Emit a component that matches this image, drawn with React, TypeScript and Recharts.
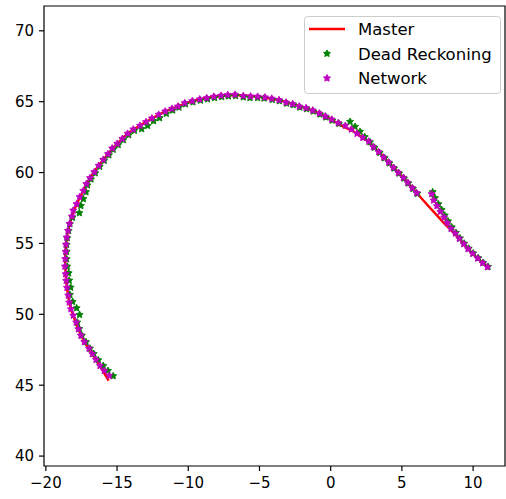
import {
	ScatterChart,
	Scatter,
	XAxis,
	YAxis,
	ReferenceArea,
} from "recharts";

const FONT = "'DejaVu Sans', sans-serif";

// master trajectory (red line)
const masterPoints: [number, number][] = [
	[-15.59, 45.33], [-16.2, 46.37], [-16.74, 47.2], [-17.3, 48.05], [-17.72, 48.96],
	[-18.08, 49.92], [-18.36, 50.84], [-18.52, 51.88], [-18.61, 52.84], [-18.65, 53.9],
	[-18.59, 54.93], [-18.45, 55.9], [-18.17, 56.91], [-17.84, 57.78], [-17.37, 58.72],
	[-16.9, 59.62], [-16.29, 60.49], [-15.64, 61.31], [-14.99, 62.04], [-14.26, 62.75],
	[-13.39, 63.31], [-12.55, 63.83], [-11.62, 64.32], [-10.72, 64.67], [-9.72, 65.05],
	[-8.71, 65.27], [-7.7, 65.42], [-6.72, 65.47], [-5.62, 65.4], [-4.61, 65.3],
	[-3.63, 65.12], [-2.67, 64.84], [-1.73, 64.55], [-0.8, 64.18], [0.07, 63.75],
	[0.65, 63.36], [1.59, 62.91], [2.53, 62.27], [3.46, 61.38], [4.07, 60.72],
	[4.75, 59.99], [5.41, 59.29], [6.04, 58.56], [6.97, 57.52], [7.91, 56.49],
	[8.45, 55.94], [9.03, 55.34], [9.64, 54.61], [10.32, 53.95], [11.0, 53.34],
];

const deadReckoningPoints: [number, number][] = [
	[-15.27, 45.65], [-15.64, 46.02], [-15.97, 46.37], [-16.32, 46.77], [-16.64, 47.22],
	[-16.9, 47.59], [-17.18, 48.05], [-17.47, 48.51], [-17.65, 48.98], [-17.79, 49.43],
	[-17.63, 49.97], [-17.84, 50.44], [-18.12, 50.89], [-18.31, 51.38], [-18.26, 51.9],
	[-18.36, 52.39], [-18.4, 52.91], [-18.5, 53.38], [-18.54, 53.9], [-18.54, 54.42],
	[-18.54, 54.91], [-18.5, 55.38], [-18.4, 55.9], [-18.31, 56.37], [-18.13, 56.82],
	[-17.65, 57.15], [-17.54, 57.66], [-17.37, 58.14], [-17.18, 58.63], [-17.08, 59.11],
	[-16.83, 59.53], [-16.53, 59.96], [-16.22, 60.42], [-15.9, 60.84], [-15.57, 61.23],
	[-15.27, 61.62], [-14.92, 61.95], [-14.56, 62.3], [-14.18, 62.65], [-13.78, 62.96],
	[-13.27, 63.08], [-12.85, 63.31], [-12.43, 63.64], [-12.01, 63.85], [-11.54, 64.16],
	[-11.09, 64.39], [-10.65, 64.6], [-10.2, 64.83], [-9.67, 64.97], [-9.14, 65.09],
	[-8.65, 65.18], [-8.15, 65.27], [-7.65, 65.34], [-7.18, 65.39], [-6.67, 65.41],
	[-6.14, 65.32], [-5.67, 65.27], [-5.13, 65.27], [-4.68, 65.24], [-4.1, 65.14],
	[-3.6, 65.05], [-3.09, 64.88], [-2.63, 64.77], [-2.16, 64.6], [-1.69, 64.49],
	[-1.22, 64.32], [-0.75, 64.11], [-0.33, 63.9], [0.11, 63.68], [0.58, 63.45],
	[1.36, 63.59], [1.71, 63.24], [2.06, 62.89], [2.39, 62.51], [2.76, 62.15],
	[3.08, 61.76], [3.44, 61.4], [3.79, 61.02], [4.13, 60.66], [4.45, 60.3],
	[4.8, 59.94], [5.15, 59.59], [5.45, 59.24], [5.78, 58.86], [6.08, 58.51],
	[7.16, 58.63], [7.32, 58.21], [7.56, 57.78], [7.79, 57.38], [8.01, 56.98],
	[8.24, 56.57], [8.5, 56.15], [8.8, 55.76], [9.08, 55.37], [9.38, 55.0],
	[9.69, 54.65], [10.01, 54.31], [10.37, 53.97], [10.72, 53.64], [11.05, 53.36],
];

const networkPoints: [number, number][] = [
	[-15.55, 45.67], [-15.9, 46.02], [-16.2, 46.37], [-16.48, 46.8], [-16.74, 47.2],
	[-16.97, 47.59], [-17.3, 48.05], [-17.54, 48.51], [-17.72, 48.96], [-17.87, 49.43],
	[-18.08, 49.92], [-18.24, 50.37], [-18.36, 50.84], [-18.43, 51.33], [-18.52, 51.88],
	[-18.57, 52.37], [-18.61, 52.84], [-18.66, 53.38], [-18.64, 53.9], [-18.61, 54.42],
	[-18.59, 54.93], [-18.54, 55.43], [-18.45, 55.9], [-18.33, 56.39], [-18.17, 56.91],
	[-18.08, 57.33], [-17.84, 57.78], [-17.63, 58.28], [-17.37, 58.72], [-17.16, 59.2],
	[-16.9, 59.62], [-16.6, 60.04], [-16.29, 60.49], [-15.97, 60.91], [-15.64, 61.31],
	[-15.34, 61.71], [-14.99, 62.04], [-14.63, 62.39], [-14.26, 62.75], [-13.86, 63.05],
	[-13.39, 63.31], [-12.97, 63.57], [-12.55, 63.83], [-12.08, 64.09], [-11.62, 64.32],
	[-11.14, 64.51], [-10.72, 64.67], [-10.25, 64.91], [-9.72, 65.05], [-9.2, 65.17],
	[-8.71, 65.26], [-8.2, 65.36], [-7.7, 65.43], [-7.23, 65.48], [-6.72, 65.5],
	[-6.14, 65.41], [-5.62, 65.38], [-5.13, 65.36], [-4.61, 65.31], [-4.14, 65.22],
	[-3.63, 65.12], [-3.14, 64.95], [-2.67, 64.84], [-2.21, 64.67], [-1.73, 64.56],
	[-1.26, 64.39], [-0.8, 64.18], [-0.38, 63.97], [0.07, 63.75], [0.53, 63.5],
	[1.03, 63.31], [1.45, 63.05], [1.85, 62.75], [2.25, 62.46], [2.67, 62.2],
	[2.99, 61.81], [3.37, 61.45], [3.72, 61.07], [4.07, 60.72], [4.4, 60.35],
	[4.75, 59.99], [5.1, 59.64], [5.41, 59.29], [5.73, 58.91], [6.04, 58.56],
	[7.09, 58.49], [7.23, 58.04], [7.46, 57.64], [7.7, 57.24], [7.96, 56.84],
	[8.19, 56.44], [8.45, 56.04], [8.75, 55.71], [9.03, 55.34], [9.34, 54.96],
	[9.64, 54.61], [9.97, 54.28], [10.32, 53.95], [10.67, 53.62], [11.0, 53.34],
];

const xTicks = [-20, -15, -10, -5, 0, 5, 10];
const yTicks = [40, 45, 50, 55, 60, 65, 70];
const xDomain: [number, number] = [-20.13, 12.24];
const yDomain: [number, number] = [39.3, 71.75];

const RED = "#ff0000";
const GREEN = "#008000";
const MAGENTA = "#bf00bf";

const toXY = (arr: [number, number][]) => arr.map(([x, y]) => ({ x, y }));

const starPath = (cx: number, cy: number, r: number) => {
	const pts: string[] = [];
	for (let i = 0; i < 10; i++) {
		const rr = i % 2 === 0 ? r : r * 0.5;
		const a = ((-90 + i * 36) * Math.PI) / 180;
		pts.push(`${cx + rr * Math.cos(a)},${cy + rr * Math.sin(a)}`);
	}
	return pts.join(" ");
};

const starShape = (color: string) => (props: any) => {
	const { cx, cy } = props;
	if (cx == null || cy == null) return <g />;
	return (
		<polygon
			points={starPath(cx, cy, 3.7)}
			fill={color}
			stroke={color}
			strokeWidth={0.9}
			strokeLinejoin="round"
		/>
	);
};

const fmt = (v: number) => (v < 0 ? `\u2212${-v}` : `${v}`);

const LegendBox = () => {
	const rows = [
		{ name: "Master", kind: "line", color: RED },
		{ name: "Dead Reckoning", kind: "star", color: GREEN },
		{ name: "Network", kind: "star", color: MAGENTA },
	];
	return (
		<svg
			width={198}
			height={79}
			style={{ position: "absolute", left: 304, top: 16, display: "block" }}
		>
			<rect
				x={0.5}
				y={0.5}
				width={196}
				height={77}
				rx={3}
				fill="rgba(255,255,255,0.8)"
				stroke="#cccccc"
				strokeWidth={1}
			/>
			{rows.map((r, i) => {
				const cy = 13 + i * 24.6;
				return (
					<g key={r.name}>
						{r.kind === "line" ? (
							<line x1={5} x2={41} y1={cy} y2={cy} stroke={r.color} strokeWidth={2.5} />
						) : (
							<polygon
								points={starPath(23, cy, 3.7)}
								fill={r.color}
								stroke={r.color}
								strokeWidth={0.9}
								strokeLinejoin="round"
							/>
						)}
						<text x={54} y={cy} dy="0.36em" fontSize={16.5} fontFamily={FONT} fill="#000">
							{r.name}
						</text>
					</g>
				);
			})}
		</svg>
	);
};

export default function App() {
	return (
		<div style={{ position: "absolute", left: 0, top: 0, width: 506, height: 499, background: "#fff" }}>
			<ScatterChart
				width={506}
				height={499}
				margin={{ top: 6, right: 1, left: 0, bottom: 0 }}
			>
				<XAxis
					type="number"
					dataKey="x"
					domain={xDomain}
					ticks={xTicks}
					interval={0}
					allowDataOverflow
					height={33}
					axisLine={false}
					tickSize={5}
					tickMargin={6}
					tickLine={{ stroke: "#000", strokeWidth: 1.2 }}
					tick={{ fill: "#000", fontSize: 15, fontFamily: FONT }}
					tickFormatter={fmt}
				/>
				<YAxis
					type="number"
					dataKey="y"
					domain={yDomain}
					ticks={yTicks}
					interval={0}
					allowDataOverflow
					width={44}
					axisLine={false}
					tickSize={5}
					tickMargin={5}
					tickLine={{ stroke: "#000", strokeWidth: 1.2 }}
					tick={{ fill: "#000", fontSize: 15, fontFamily: FONT }}
					tickFormatter={fmt}
				/>
				<ReferenceArea
					x1={xDomain[0]}
					x2={xDomain[1]}
					y1={yDomain[0]}
					y2={yDomain[1]}
					fill="none"
					fillOpacity={0}
					stroke="#000"
					strokeWidth={1.2}
					ifOverflow="visible"
				/>
				<Scatter
					name="Master"
					data={toXY(masterPoints)}
					line={{ stroke: RED, strokeWidth: 2.5 }}
					shape={() => <g />}
					isAnimationActive={false}
				/>
				<Scatter
					name="Dead Reckoning"
					data={toXY(deadReckoningPoints)}
					shape={starShape(GREEN)}
					isAnimationActive={false}
				/>
				<Scatter
					name="Network"
					data={toXY(networkPoints)}
					shape={starShape(MAGENTA)}
					isAnimationActive={false}
				/>
			</ScatterChart>
			<LegendBox />
		</div>
	);
}
